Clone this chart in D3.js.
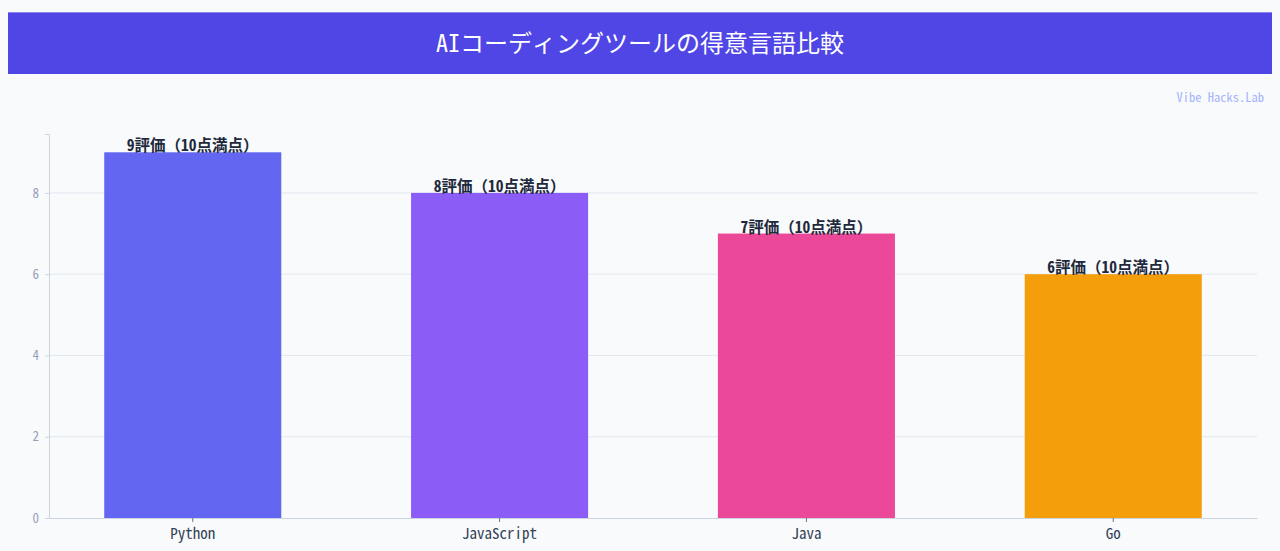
<!DOCTYPE html>
<html><head><meta charset="utf-8">
<script src="https://cdn.jsdelivr.net/npm/d3@7"></script>
<style>
html,body{margin:0;padding:0;background:#f8fafc;}
svg{display:block;}
svg text{font-family:"Noto Sans Mono CJK JP","Noto Sans CJK JP",monospace;}
</style></head>
<body>
<svg id="chart" width="1280" height="551"></svg>
<script>
const titleText = "AIコーディングツールの得意言語比較";
const watermark = "Vibe Hacks.Lab";
const categories = ["Python", "JavaScript", "Java", "Go"];
const scores = [9, 8, 7, 6];
const colors = ["#6366f1", "#8b5cf6", "#ec4899", "#f59e0b"];
const yTicks = [0, 2, 4, 6, 8];
const labelSuffix = "評価（10点満点）";

const svg = d3.select("#chart");
const W = 1280, H = 551;
svg.append("rect").attr("width", W).attr("height", H).attr("fill", "#f8fafc");

// header
svg.append("rect").attr("x", 8).attr("y", 12).attr("width", 1264).attr("height", 62).attr("fill", "#4f46e5");
svg.append("rect").attr("x", 8).attr("y", 12).attr("width", 1264).attr("height", 1).attr("fill", "#8b87ee");
svg.append("text").attr("x", 640).attr("y", 45).attr("text-anchor", "middle").attr("dominant-baseline", "middle")
  .attr("fill", "#ffffff").attr("font-size", 24).text(titleText);
svg.append("text").attr("x", 1264).attr("y", 102).attr("text-anchor", "end")
  .attr("fill", "#a5b4fc").attr("font-size", 12.5).text(watermark);

const m = {left: 49, right: 1257, top: 134, bottom: 518};
const x = d3.scaleBand().domain(categories).range([m.left, m.right]).paddingInner(0.423).paddingOuter(0.18);
const y = d3.scaleLinear().domain([0, d3.max(scores) * 1.05]).range([m.bottom, m.top]);

// grid
svg.append("g").selectAll("line").data(yTicks.filter(d => d > 0)).join("line")
  .attr("x1", m.left).attr("x2", m.right).attr("y1", d => y(d)).attr("y2", d => y(d))
  .attr("stroke", "#e2e8f0").attr("stroke-width", 1);

// y axis
const ya = svg.append("g").attr("transform", `translate(${m.left},0)`)
  .call(d3.axisLeft(y).tickValues(yTicks).tickSize(4).tickPadding(6))
  .attr("font-family", null);
ya.select(".domain").attr("stroke", "#cbd5e1");
ya.selectAll(".tick line").attr("stroke", "#cbd5e1");
ya.selectAll("text").attr("fill", "#94a3b8").attr("font-size", 13);

// bars
svg.append("g").selectAll("rect").data(categories).join("rect")
  .attr("x", d => x(d)).attr("width", x.bandwidth())
  .attr("y", (d, i) => y(scores[i])).attr("height", (d, i) => y(0) - y(scores[i]))
  .attr("fill", (d, i) => colors[i]);

// x axis
const xa = svg.append("g").attr("transform", `translate(0,${m.bottom})`)
  .call(d3.axisBottom(x).tickSize(4).tickPadding(6).tickSizeOuter(0))
  .attr("font-family", null);
xa.select(".domain").attr("stroke", "#cbd5e1");
xa.selectAll(".tick line").attr("stroke", "#64748b");
xa.selectAll("text").attr("fill", "#334155").attr("font-size", 15);

// value labels
svg.append("g").selectAll("text").data(categories).join("text")
  .attr("x", d => x(d) + x.bandwidth() / 2)
  .attr("y", (d, i) => y(scores[i]) - 1)
  .attr("text-anchor", "middle").attr("fill", "#1e293b").attr("font-size", 15.5).attr("font-weight", "bold")
  .text((d, i) => scores[i] + labelSuffix);
</script>
</body></html>
